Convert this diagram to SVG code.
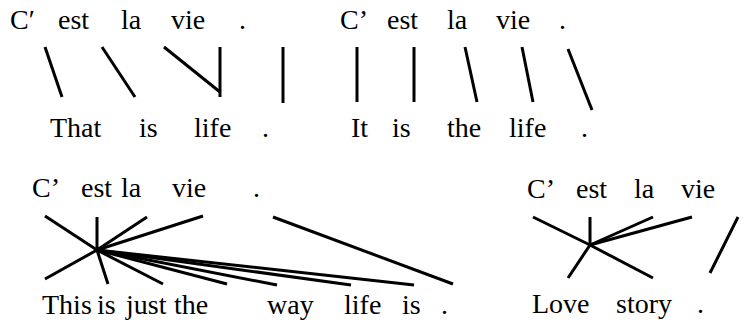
<svg xmlns="http://www.w3.org/2000/svg" width="746" height="327" viewBox="0 0 746 327">
<style>
text{font-family:"Liberation Serif","Times New Roman","Liberation Sans",Arial,sans-serif;font-size:28px;fill:#000}
.c line{stroke:#000;stroke-width:3;stroke-linecap:butt}
</style>
<rect width="746" height="327" fill="#fff"/>
<g id="panel1-src">
<text x="10" y="29">C′</text><text x="58" y="29">est</text><text x="121" y="29">la</text><text x="171" y="29">vie</text><text x="239" y="29">.</text>
</g>
<g id="panel1-tgt">
<text x="50" y="137">That</text><text x="139" y="137">is</text><text x="194" y="137">life</text><text x="262" y="137">.</text>
</g>
<g id="panel2-src">
<text x="340" y="29">C’</text><text x="387" y="29">est</text><text x="447" y="29">la</text><text x="496" y="29">vie</text><text x="559" y="29">.</text>
</g>
<g id="panel2-tgt">
<text x="351" y="137">It</text><text x="392" y="137">is</text><text x="447" y="137">the</text><text x="509" y="137">life</text><text x="581" y="137">.</text>
</g>
<g id="panel3-src">
<text x="32" y="197">C’</text><text x="81" y="197">est</text><text x="121" y="197">la</text><text x="172" y="197">vie</text><text x="253" y="197">.</text>
</g>
<g id="panel3-tgt">
<text x="42" y="314">This</text><text x="97" y="314">is</text><text x="126" y="314">just</text><text x="174" y="314">the</text><text x="267" y="314">way</text><text x="344" y="314">life</text><text x="402" y="314">is</text><text x="441" y="314">.</text>
</g>
<g id="panel4-src">
<text x="527" y="198">C’</text><text x="576" y="198">est</text><text x="634" y="198">la</text><text x="681" y="198">vie</text>
</g>
<g id="panel4-tgt">
<text x="532" y="313">Love</text><text x="616" y="313">story</text><text x="697" y="313">.</text>
</g>
<g id="connectors" class="c">
<line x1="45" y1="47" x2="62" y2="97"/>
<line x1="102" y1="47" x2="135" y2="97"/>
<line x1="164" y1="47" x2="220" y2="92"/>
<line x1="220" y1="47" x2="220" y2="97"/>
<line x1="283" y1="47" x2="283" y2="103"/>
<line x1="357" y1="47" x2="357" y2="102"/>
<line x1="414" y1="47" x2="414" y2="102"/>
<line x1="465" y1="47" x2="477" y2="102"/>
<line x1="522" y1="47" x2="533" y2="102"/>
<line x1="568" y1="49" x2="592" y2="110"/>
<line x1="45" y1="216" x2="97" y2="250"/>
<line x1="97" y1="250" x2="45" y2="279"/>
<line x1="97" y1="217" x2="97" y2="250"/>
<line x1="97" y1="250" x2="108" y2="284"/>
<line x1="147" y1="217" x2="97" y2="250"/>
<line x1="203" y1="216" x2="97" y2="250"/>
<line x1="97" y1="250" x2="163" y2="284"/>
<line x1="97" y1="250" x2="227" y2="284"/>
<line x1="97" y1="250" x2="277" y2="285"/>
<line x1="97" y1="250" x2="351" y2="285"/>
<line x1="97" y1="250" x2="414" y2="285"/>
<line x1="273" y1="217" x2="453" y2="284"/>
<line x1="533" y1="217" x2="590" y2="245"/>
<line x1="590" y1="245" x2="653" y2="278"/>
<line x1="590" y1="217" x2="590" y2="245"/>
<line x1="653" y1="217" x2="590" y2="245"/>
<line x1="692" y1="217" x2="590" y2="245"/>
<line x1="590" y1="245" x2="568" y2="278"/>
<line x1="738" y1="217" x2="710" y2="273"/>
</g>
</svg>
